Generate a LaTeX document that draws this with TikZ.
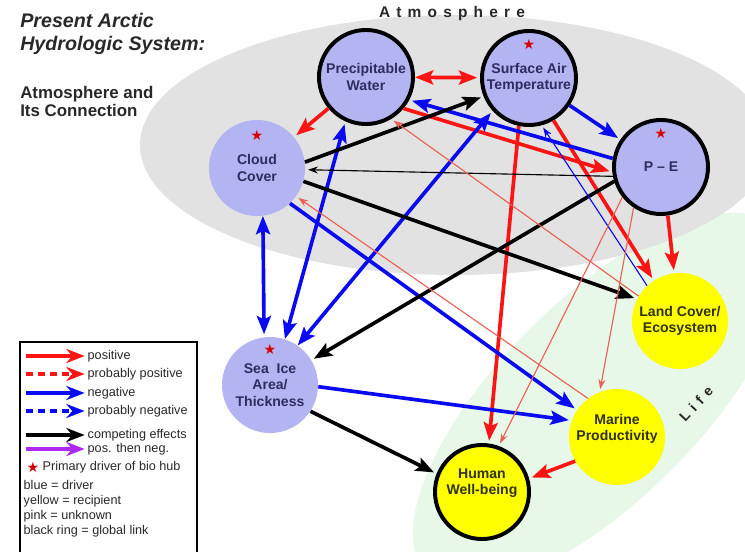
\documentclass[tikz,border=0pt]{standalone}
\usepackage{fontspec}
\setmainfont{Liberation Sans}
\newfontfamily\symfont{DejaVu Sans}
\newfontfamily\spacedfont[LetterSpace=40]{Liberation Sans}
\usetikzlibrary{arrows.meta,positioning}
\definecolor{driver}{RGB}{180,180,242}
\definecolor{recipient}{RGB}{255,255,0}
\definecolor{atmos}{RGB}{226,226,226}
\definecolor{lifezone}{RGB}{232,248,232}
\definecolor{posred}{RGB}{250,20,20}
\definecolor{negblue}{RGB}{10,10,240}
\definecolor{weakred}{RGB}{235,95,85}
\definecolor{dualviolet}{RGB}{175,40,240}
\definecolor{drivertext}{RGB}{45,45,95}
\definecolor{recipienttext}{RGB}{50,50,20}
\definecolor{inktext}{RGB}{40,40,40}
\newcommand{\hubstar}{{\symfont ★}}

\begin{document}
\begin{tikzpicture}
    [x=0.025cm, y=-0.025cm,
    >={Stealth[length=13pt,width=10pt,inset=2.5pt]},
    shorten >=2pt,
    hub/.style={
      circle,
      minimum size=2.4cm,
      inner sep=0pt,
      align=center,
      fill=driver,
      text=drivertext,
      font=\bfseries\fontsize{10}{11.5}\selectfont},
    sink/.style={hub, fill=recipient, text=recipienttext},
    ring/.style={draw=black, line width=2.8pt, minimum size=2.35cm},
    primary/.style={inner sep=0pt, text=red!85!black, font=\fontsize{10}{10}\selectfont},
    posarrow/.style={posred, line width=2.6pt},
    negarrow/.style={negblue, line width=2.6pt},
    comparrow/.style={black, line width=2.6pt},
    weak/.style={line width=0.8pt, -{Stealth[length=7pt,width=5pt]}},
    keytext/.style={anchor=west, inner sep=1pt, text=inktext, font=\fontsize{9}{10.6}\selectfont},
    keyarrow/.style={line width=3.5pt, shorten >=1pt, -{Stealth[length=13pt,width=10pt]}}
    ]
    \useasboundingbox (0,0) rectangle (745,552);
    \fill[lifezone, rotate around={45:(600,400)}] (600,400) ellipse [x radius=245, y radius=100];
    \fill[atmos] (455,145) ellipse [x radius=315, y radius=130];

    \node (atm) [text=inktext, font=\spacedfont\bfseries\fontsize{11}{13}\selectfont] at (452,14) {Atmosphere};
    \node (life) [rotate=47, text=inktext, font=\spacedfont\bfseries\fontsize{10}{12}\selectfont] at (696,404) {Life};
    \node (title) [anchor=north west, align=left, inner sep=0pt, text=inktext, font=\bfseries\itshape\fontsize{14}{16.3}\selectfont] at (20,13) {Present Arctic\\Hydrologic System:};
    \node (sub) [anchor=north west, align=left, inner sep=0pt, text=inktext, font=\bfseries\fontsize{12}{12.8}\selectfont] at (20,86) {Atmosphere and\\Its Connection};

    \node (0) [hub, ring] at (366,77) {Precipitable\\Water};
    \node (1) [hub, ring] at (529,78) {Surface Air\\Temperature};
    \node (2) [hub] at (257,168) {Cloud\\Cover};
    \node (3) [hub, ring] at (661,167) {P – E};
    \node (4) [sink] at (680,321) {Land Cover/\\Ecosystem};
    \node (5) [hub] at (270,385) {Sea~~Ice\\Area/\\Thickness};
    \node (6) [sink, text depth=14pt] at (617,437) {Marine\\Productivity};
    \node (7) [sink, ring, text depth=15pt] at (482,492) {Human\\Well-being};

    \node (1s) [primary] at ([yshift=-11pt]1.north) {\hubstar};
    \node (2s) [primary] at ([yshift=-11pt]2.north) {\hubstar};
    \node (3s) [primary] at ([yshift=-11pt]3.north) {\hubstar};
    \node (5s) [primary] at ([yshift=-9pt]5.north) {\hubstar};

    \path[posarrow, <->] (0) edge (1);
    \path[posarrow, ->]
      (0) edge (2)
      (0.-40) edge (3.186)
      (1.-60) edge (4.123)
      (3.-82) edge (4.97)
      (1.-102) edge (7.82)
      (6.-150) edge (7.16);
    \path[negarrow, ->]
      (1) edge (3)
      (3.170) edge (0.-28)
      (2.-47) edge (6.146)
      (5.-2) edge (6.160);
    \path[negarrow, <->]
      (2.-83) edge (5.97)
      (5.72) edge (0.-115)
      (5.55) edge (1.-138);
    \path[comparrow, ->]
      (2.7) edge (1.202)
      (2.-16) edge (4.153)
      (5.-33) edge (7.158)
      (3.197) edge (5.31);
    \path[weak, black] (3.191) edge (2.-2);
    \path[weak, negblue] (4.133) edge (1.-75);
    \path[weak, weakred]
      (4.149) edge (0.-59)
      (6.127) edge (2.-36)
      (3.218) edge (7.70)
      (3.-124) edge (6.111);

    \draw[line width=1.2pt] (20,342) rectangle (197,560);
    \node (k1) [keytext] at (86,356) {positive};
    \node (k2) [keytext] at (86,374) {probably positive};
    \node (k3) [keytext] at (86,393) {negative};
    \node (k4) [keytext] at (86,411) {probably negative};
    \node (k5) [keytext] at (86,435) {competing effects};
    \node (k6) [keytext] at (86,449) {pos. then neg.};
    \node (k7) [keytext] at (41,467) {Primary driver of bio hub};
    \node (k7s) [primary, left=1pt of k7] {\hubstar};
    \node (k8) [keytext, anchor=north west, align=left] at (22,479) {blue = driver\\yellow = recipient\\pink = unknown\\black ring = global link};
    \coordinate (k1a) at (26,356);
    \coordinate (k2a) at (26,374);
    \coordinate (k3a) at (26,393);
    \coordinate (k4a) at (26,411);
    \coordinate (k5a) at (26,435);
    \coordinate (k6a) at (26,449);
    \path[keyarrow, posred] (k1a) edge (k1);
    \path[keyarrow, posred, dash pattern=on 5pt off 3.5pt] (k2a) edge (k2);
    \path[keyarrow, negblue] (k3a) edge (k3);
    \path[keyarrow, negblue, dash pattern=on 5pt off 3.5pt] (k4a) edge (k4);
    \path[keyarrow, black] (k5a) edge (k5);
    \path[keyarrow, dualviolet] (k6a) edge (k6);
\end{tikzpicture}
\end{document}
